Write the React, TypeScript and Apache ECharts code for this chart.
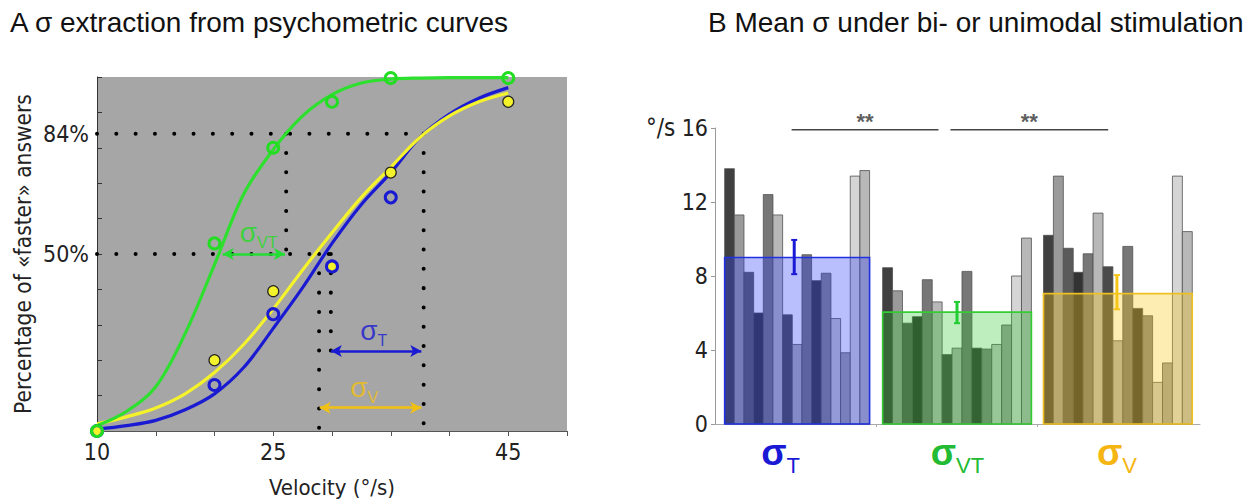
import React, { useEffect, useRef } from 'react';
import * as echarts from 'echarts';

const NARROW = "'Liberation Sans Narrow', 'Arial Narrow', 'DejaVu Sans Condensed', sans-serif";
const SANS = "'Liberation Sans', Arial, Helvetica, sans-serif";

// ---------------- Panel A data ----------------
const velocityLabels = [10, 25, 45];
const percentLabels = [50, 84];
const stimVelocities = [10, 20, 25, 30, 35, 45];
const greenPoints = [0, 53, 80, 93, 99.7, 99.7];
const bluePoints = [0, 13, 33, 46.5, 66, null];
const yellowPoints = [0, 20, 39.5, 46.3, 73, 93];

const curveVelocities = [10, 12.5, 15, 17.5, 20, 22.5, 25, 27.5, 30, 32.5, 35, 37.5, 40, 42.5, 45];
const greenCurve = [1.5, 5.5, 12.5, 27.5, 47, 67, 79.5, 89, 95, 98.3, 99.4, 99.7, 99.8, 99.8, 99.8];
const blueCurve = [0.5, 1.5, 3, 6, 10.5, 18, 29, 40.5, 53, 64, 73, 83, 89.5, 94, 97];
const yellowCurve = [2, 4, 6.5, 10.5, 16.5, 24.5, 34.5, 45.5, 56, 66, 74.5, 83, 89, 93, 95.5];

// dotted guide lines [x1, y1, x2, y2]
const guideLines = [
  [10, 84, 37.8, 84],
  [10, 50, 30, 50],
  [26.1, 84, 26.1, 50],
  [28.9, 50, 28.9, 0],
  [29.9, 50, 29.9, 22.6],
  [37.8, 84, 37.8, 0],
];
// sigma arrows [x1, x2, y]
const arrowVT = [20.7, 26.0, 50];
const arrowT = [29.9, 37.6, 22.6];
const arrowV = [28.95, 37.6, 6.6];
// sigma label anchors [x, y]
const labelVT = [23.75, 56];
const labelT = [33.55, 28.4];
const labelV = [32.75, 12.4];

// ---------------- Panel B data ----------------
const groupNames = ['T', 'VT', 'V'];
const sigmaT = [13.8, 11.3, 8.2, 6.0, 12.4, 11.3, 5.9, 4.3, 9.15, 7.75, 8.15, 5.7, 3.85, 13.4, 13.7];
const sigmaVT = [8.45, 7.2, 5.45, 5.8, 7.8, 6.6, 3.75, 4.1, 8.25, 4.1, 4.05, 4.3, 5.35, 8.0, 10.05];
const sigmaV = [10.2, 13.4, 9.5, 8.2, 9.2, 11.4, 8.5, 4.5, 9.6, 6.25, 5.85, 2.25, 3.3, 13.4, 10.4];
const groupMeans = [9.0, 6.05, 7.05];
const errorLow = [8.1, 5.45, 6.2];
const errorHigh = [9.95, 6.6, 8.05];
const yTicksB = [0, 4, 8, 12, 16];

const participantShades = ['#404040', '#9a9a9a', '#5a5a5a', '#333333', '#777777', '#b8b8b8', '#4a4a4a',
  '#b0b0b0', '#777777', '#383838', '#858585', '#c8c8c8', '#a0a0a0', '#d5d5d5', '#b8b8b8'];

const groupSpans = [[1.0, 16.0], [17.35, 32.75], [34.0, 49.4]];
const groupLabelX = [6.8, 25.1, 41.6];
const errorBarX = [8.2, 25.05, 41.6];
const sigLines = [[7.93, 23.13], [24.37, 40.7]];
const sigY = 15.9;
const starY = 16.35;

const BLUE = '#1a1ad2';
const GREEN = '#2ee02e';
const YELLOW = '#f4f22a';
const GOLD = '#f2c012';
const boxFill = ['rgba(40,60,245,0.33)', 'rgba(40,200,40,0.30)', 'rgba(250,200,20,0.33)'];
const boxStroke = ['#2030e0', '#33cc33', '#f0c020'];
const groupLabelColor = ['#1a1ad6', '#22bb33', '#f5b512'];
const errColor = ['#1a1ad6', '#22cc33', '#f5c518'];

function buildOption() {
  const allValues = [sigmaT, sigmaVT, sigmaV];
  const barData: number[][] = [];
  allValues.forEach((vals, g) => {
    const [s, e] = groupSpans[g];
    const w = (e - s) / vals.length;
    vals.forEach((v, i) => barData.push([s + i * w, s + (i + 1) * w, v, i]));
  });
  const boxData = groupMeans.map((m, g) => [groupSpans[g][0], groupSpans[g][1], m, g]);
  const errData = errorBarX.map((x, g) => [x, errorLow[g], errorHigh[g], g]);

  const richB: any = {};
  groupNames.forEach((n, g) => {
    richB['s' + g] = { fontSize: 37, fontWeight: 'bold', color: groupLabelColor[g], fontFamily: SANS, lineHeight: 48 };
    richB['b' + g] = { fontSize: 22, color: groupLabelColor[g], fontFamily: SANS, lineHeight: 22, verticalAlign: 'bottom' };
  });

  const sigmaLabelSeries = (pos: number[], sub: string, color: string) => ({
    type: 'scatter', xAxisIndex: 0, yAxisIndex: 0, symbolSize: 0, silent: true, z: 10,
    data: [pos],
    label: {
      show: true, position: 'inside', formatter: `{s|σ}{b|${sub}}`,
      rich: {
        s: { fontSize: 28, color, fontFamily: SANS, lineHeight: 36 },
        b: { fontSize: 16, color, fontFamily: SANS, lineHeight: 16, verticalAlign: 'bottom' },
      },
    },
  });

  const arrowMark = (a: number[], color: string) => ({
    silent: true, symbol: ['arrow', 'arrow'], symbolSize: [9, 11],
    label: { show: false }, lineStyle: { color, width: 2.5, type: 'solid' },
    data: [[{ coord: [a[0], a[2]] }, { coord: [a[1], a[2]] }]],
  });

  const series: any[] = [];
  guideLines.forEach((g) => {
    series.push({
      type: 'line', xAxisIndex: 0, yAxisIndex: 0, silent: true, symbol: 'none', z: 1,
      data: [[g[0], g[1]], [g[2], g[3]]],
      lineStyle: { color: '#000', width: 4, type: [0.01, 19.3], cap: 'round' },
    });
  });
  const curveSeries = (vals: number[], color: string, arrow: any) => ({
    type: 'line', xAxisIndex: 0, yAxisIndex: 0, silent: true, symbol: 'none', smooth: 0.35, z: 3,
    data: curveVelocities.map((v, i) => [v, vals[i]]),
    lineStyle: { color, width: 3.2 },
    markLine: arrow,
  });
  series.push(curveSeries(blueCurve, BLUE, arrowMark(arrowT, BLUE)));
  series.push(curveSeries(yellowCurve, YELLOW, arrowMark(arrowV, GOLD)));
  series.push(curveSeries(greenCurve, GREEN, arrowMark(arrowVT, '#22dd33')));
  series.push({
    type: 'scatter', xAxisIndex: 0, yAxisIndex: 0, symbolSize: 11, z: 5, clip: false,
    data: stimVelocities.map((v, i) => [v, yellowPoints[i]]),
    itemStyle: { color: YELLOW, borderColor: '#222', borderWidth: 1.2, opacity: 1 },
  });
  series.push({
    type: 'scatter', xAxisIndex: 0, yAxisIndex: 0, symbolSize: 11, z: 6, clip: false,
    data: stimVelocities.map((v, i) => [v, bluePoints[i]]).filter((d) => d[1] != null),
    itemStyle: { color: 'rgba(0,0,0,0)', borderColor: BLUE, borderWidth: 3, opacity: 1 },
  });
  series.push({
    type: 'scatter', xAxisIndex: 0, yAxisIndex: 0, symbolSize: 11, z: 7, clip: false,
    data: stimVelocities.map((v, i) => [v, greenPoints[i]]),
    itemStyle: { color: 'rgba(0,0,0,0)', borderColor: '#22dd22', borderWidth: 3, opacity: 1 },
  });
  series.push(sigmaLabelSeries(labelVT, 'VT', '#22dd22'));
  series.push(sigmaLabelSeries(labelT, 'T', BLUE));
  series.push(sigmaLabelSeries(labelV, 'V', GOLD));

  // Panel B
  series.push({
    type: 'custom', xAxisIndex: 1, yAxisIndex: 1, silent: true, z: 2,
    data: barData,
    encode: { x: [0, 1], y: 2 },
    renderItem: (params: any, api: any) => {
      const bl = api.coord([api.value(0), 0]);
      const tr = api.coord([api.value(1), api.value(2)]);
      return {
        type: 'rect',
        shape: { x: bl[0], y: tr[1], width: tr[0] - bl[0], height: bl[1] - tr[1] },
        style: { fill: participantShades[api.value(3)], stroke: '#505050', lineWidth: 0.8 },
      };
    },
  });
  series.push({
    type: 'custom', xAxisIndex: 1, yAxisIndex: 1, silent: true, z: 3,
    data: boxData,
    encode: { x: [0, 1], y: 2 },
    renderItem: (params: any, api: any) => {
      const g = api.value(3);
      const bl = api.coord([api.value(0), 0]);
      const tr = api.coord([api.value(1), api.value(2)]);
      return {
        type: 'rect',
        shape: { x: bl[0], y: tr[1], width: tr[0] - bl[0], height: bl[1] - tr[1] },
        style: { fill: boxFill[g], stroke: boxStroke[g], lineWidth: 1.6 },
      };
    },
  });
  series.push({
    type: 'custom', xAxisIndex: 1, yAxisIndex: 1, silent: true, z: 4,
    data: errData,
    encode: { x: 0, y: [1, 2] },
    renderItem: (params: any, api: any) => {
      const g = api.value(3);
      const lo = api.coord([api.value(0), api.value(1)]);
      const hi = api.coord([api.value(0), api.value(2)]);
      const st = { stroke: errColor[g], lineWidth: 3 };
      const cap = 3;
      return {
        type: 'group',
        children: [
          { type: 'line', shape: { x1: lo[0], y1: lo[1], x2: hi[0], y2: hi[1] }, style: st },
          { type: 'line', shape: { x1: lo[0] - cap, y1: lo[1], x2: lo[0] + cap, y2: lo[1] }, style: { ...st, lineWidth: 2 } },
          { type: 'line', shape: { x1: hi[0] - cap, y1: hi[1], x2: hi[0] + cap, y2: hi[1] }, style: { ...st, lineWidth: 2 } },
        ],
      };
    },
  });
  sigLines.forEach((l) => {
    series.push({
      type: 'line', xAxisIndex: 1, yAxisIndex: 1, silent: true, symbol: 'none', z: 5,
      data: [[l[0], sigY], [l[1], sigY]],
      lineStyle: { color: '#444', width: 1.5 },
    });
  });
  series.push({
    type: 'scatter', xAxisIndex: 1, yAxisIndex: 1, symbolSize: 0, silent: true, clip: false, z: 5,
    data: sigLines.map((l) => [(l[0] + l[1]) / 2, starY]),
    label: { show: true, position: 'inside', formatter: '**', fontSize: 22, fontWeight: 'bold', color: '#333', fontFamily: SANS },
  });

  return {
    animation: false,
    backgroundColor: '#ffffff',
    textStyle: { fontFamily: SANS },
    grid: [
      { left: 97, top: 77, width: 470, height: 355, show: true, backgroundColor: '#a6a6a6', borderWidth: 0 },
      { left: 715, top: 128, width: 485, height: 296 },
    ],
    xAxis: [
      {
        gridIndex: 0, type: 'value', min: 10, max: 50, interval: 5,
        axisLine: { show: true, lineStyle: { color: '#555', width: 1 } },
        axisTick: { show: true, length: 5, lineStyle: { color: '#555' } },
        splitLine: { show: false },
        axisLabel: { customValues: velocityLabels, fontSize: 23, fontFamily: NARROW, color: '#222', margin: 9 },
        name: 'Velocity (°/s)', nameLocation: 'middle', nameGap: 45,
        nameTextStyle: { fontSize: 22, fontFamily: NARROW, color: '#222' },
      },
      {
        gridIndex: 1, type: 'value', min: 0, max: 50.2,
        axisLine: { show: true, lineStyle: { color: '#aaa', width: 1 } },
        axisTick: { show: true, customValues: [16.68, 33.37], length: 3, lineStyle: { color: '#aaa' } },
        splitLine: { show: false },
        axisLabel: {
          customValues: groupLabelX, margin: 4,
          formatter: (v: number) => {
            let g = 0;
            groupLabelX.forEach((c, i) => { if (Math.abs(c - v) < Math.abs(groupLabelX[g] - v)) g = i; });
            return `{s${g}|σ}{b${g}|${groupNames[g]}}`;
          },
          rich: richB,
        },
      },
    ],
    yAxis: [
      {
        gridIndex: 0, type: 'value', min: 0, max: 100, interval: 10,
        axisLine: { show: true, lineStyle: { color: '#333', width: 1 } },
        axisTick: { show: true, inside: true, length: 5, lineStyle: { color: '#333' } },
        splitLine: { show: false },
        axisLabel: { customValues: percentLabels, formatter: '{value}%', fontSize: 23, fontFamily: NARROW, color: '#222', margin: 8 },
        name: 'Percentage of «faster» answers', nameLocation: 'middle', nameGap: 63, nameRotate: 90,
        nameTextStyle: { fontSize: 22.5, fontFamily: NARROW, color: '#222' },
      },
      {
        gridIndex: 1, type: 'value', min: 0, max: 16, interval: 4,
        axisLine: { show: true, lineStyle: { color: '#999', width: 1 } },
        axisTick: { show: true, length: 4, lineStyle: { color: '#999' } },
        splitLine: { show: false },
        axisLabel: { customValues: yTicksB, fontSize: 23, fontFamily: NARROW, color: '#222', margin: 7 },
      },
    ],
    graphic: [
      { type: 'text', left: 10, top: 8, style: { text: 'A σ extraction from psychometric curves', fontSize: 28, fontFamily: SANS, fill: '#111' } },
      { type: 'text', left: 708, top: 8, style: { text: 'B Mean σ under bi- or unimodal stimulation', fontSize: 28, fontFamily: SANS, fill: '#111' } },
      { type: 'text', left: 646, top: 116, style: { text: '°/s', fontSize: 24, fontFamily: NARROW, fill: '#222' } },
    ],
    series,
  };
}

export default function App() {
  const ref = useRef<HTMLDivElement>(null);
  useEffect(() => {
    document.body.style.margin = '0';
    const chart = echarts.init(ref.current as HTMLDivElement, null, { renderer: 'svg' });
    chart.setOption(buildOption() as any);
    return () => chart.dispose();
  }, []);
  return <div ref={ref} style={{ width: 1253, height: 503, background: '#fff' }} />;
}
